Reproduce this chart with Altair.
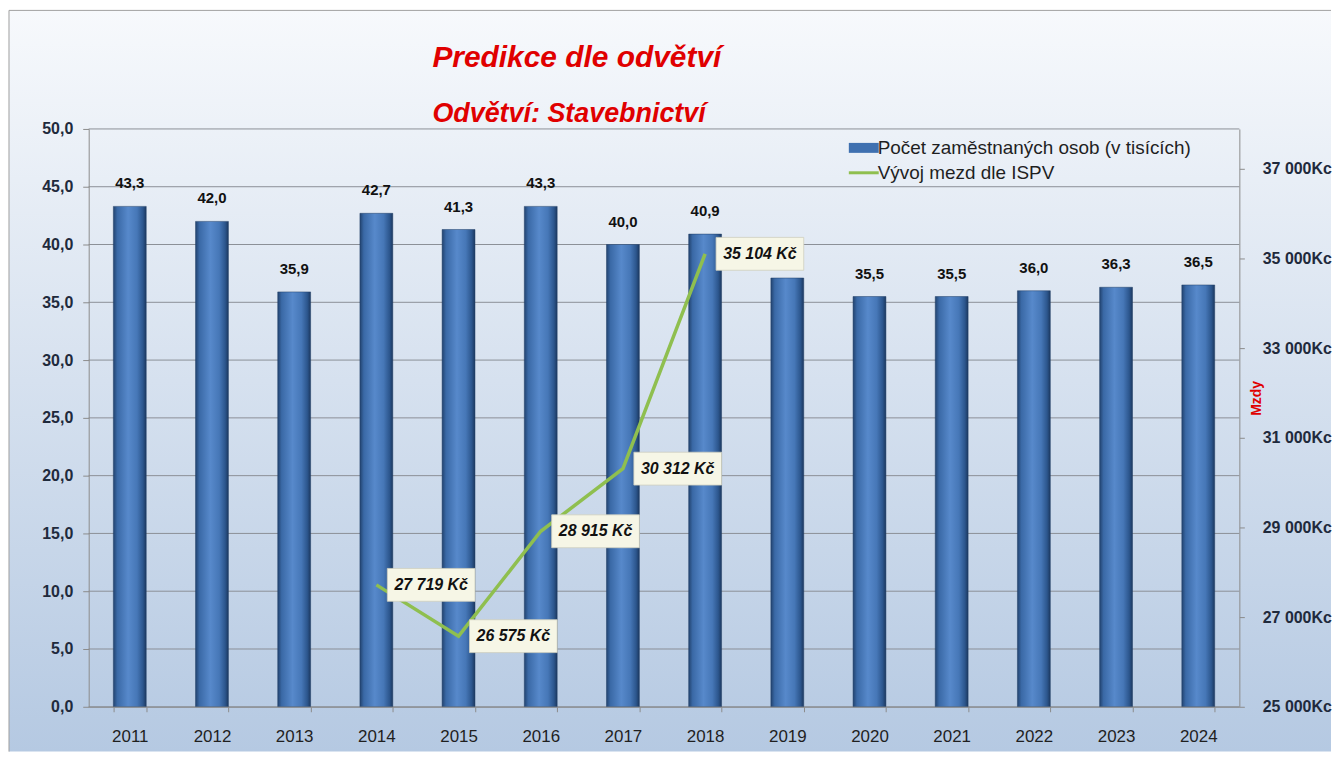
import altair as alt
import pandas as pd

# ---- data ----
years = ["2011", "2012", "2013", "2014", "2015", "2016", "2017",
         "2018", "2019", "2020", "2021", "2022", "2023", "2024"]
employees = [43.3, 42.0, 35.9, 42.7, 41.3, 43.3, 40.0,
             40.9, 37.1, 35.5, 35.5, 36.0, 36.3, 36.5]
wage_years = ["2014", "2015", "2016", "2017", "2018"]
wages = [27719, 26575, 28915, 30312, 35104]
series_names = ["Počet zaměstnaných osob (v tisících)", "Vývoj mezd dle ISPV"]
series_colors = ["#3f70b0", "#8fbf4f"]
series_shapes = ["M-1.5,-0.5H1.5V0.5H-1.5Z", "M-1.5,-0.15H1.5V0.15H-1.5Z"]
left_ticks = [0, 5, 10, 15, 20, 25, 30, 35, 40, 45, 50]
right_ticks = [25000, 27000, 29000, 31000, 33000, 35000, 37000]

W, H = 1155, 580
FONT = "Liberation Sans"
AXIS_GRAY = "#8c8c8c"
RED = "#e00000"

bars_df = pd.DataFrame({"year": years, "employees": employees})
wage_df = pd.DataFrame({
    "year": wage_years,
    "wage": wages,
    "label": [f"{w:,}".replace(",", " ") + " Kč" for w in wages],
})
grid_df = pd.DataFrame({"v": left_ticks})
legend_df = pd.DataFrame({"series": series_names})
bg_df = pd.DataFrame({"a": [0]})

xscale = alt.Scale(domain=years, paddingInner=0.6, paddingOuter=0.3)
x_axis = alt.Axis(title=None, labelFont=FONT, labelFontSize=17, labelColor="#1f1f1f",
                  tickBand="extent", tickSize=5, tickColor=AXIS_GRAY,
                  domainColor=AXIS_GRAY, labelPadding=17, grid=False,
                  labelAngle=0, zindex=1)
yL = alt.Scale(domain=[0, 50], nice=False, zero=True)
yR = alt.Scale(domain=[25000, 37890], nice=False, zero=False)

left_axis = alt.Axis(values=left_ticks,
                     labelExpr="replace(format(datum.value, '.1f'), '.', ',')",
                     labelFont=FONT, labelFontSize=16, labelFontWeight="bold",
                     labelColor="#1f2a3c", tickSize=6, tickColor=AXIS_GRAY,
                     domainColor=AXIS_GRAY, labelPadding=10, grid=False,
                     title=None, zindex=1)
right_axis = alt.Axis(orient="right", values=right_ticks,
                      labelExpr="replace(format(datum.value, ','), ',', ' ') + 'Kc'",
                      labelFont=FONT, labelFontSize=16, labelFontWeight="bold",
                      labelColor="#1f2a3c", tickSize=5, tickColor=AXIS_GRAY,
                      domainColor=AXIS_GRAY, labelPadding=18, grid=False,
                      title="Mzdy", titleColor=RED, titleFont=FONT,
                      titleFontSize=14, titleFontWeight="bold", titleAngle=270,
                      titleX=17, titleY=270, titleAlign="center",
                      titleBaseline="middle", zindex=1)

X = alt.X("year:N", scale=xscale, axis=x_axis, sort=None)

# chart-area background (gradient) and its top/left frame lines
bg = alt.Chart(bg_df).mark_rect(
    fill=alt.Gradient(gradient="linear", x1=0, y1=0, x2=0, y2=1,
                      stops=[alt.GradientStop(offset=0, color="#f7f9fc"),
                             alt.GradientStop(offset=0.5, color="#d6e1ef"),
                             alt.GradientStop(offset=1, color="#b5c9e2")]),
    strokeWidth=0,
).encode(x=alt.value(-80), x2=alt.value(W + 92), y=alt.value(-119), y2=alt.value(H + 45))
frame_top = alt.Chart(bg_df).mark_rule(color="#a0a0a0", strokeWidth=1).encode(
    x=alt.value(-80), x2=alt.value(W + 92), y=alt.value(-119))
frame_left = alt.Chart(bg_df).mark_rule(color="#a0a0a0", strokeWidth=1).encode(
    x=alt.value(-80), y=alt.value(-119), y2=alt.value(H + 45))

grid = alt.Chart(grid_df).mark_rule(color="#8c9097", strokeWidth=1).encode(
    y=alt.Y("v:Q", scale=yL, axis=left_axis)
)

bar_fill = alt.Gradient(
    gradient="linear", x1=0, y1=0, x2=1, y2=0,
    stops=[alt.GradientStop(offset=0, color="#22436f"),
           alt.GradientStop(offset=0.12, color="#3a69a6"),
           alt.GradientStop(offset=0.45, color="#5789cb"),
           alt.GradientStop(offset=0.72, color="#4677b7"),
           alt.GradientStop(offset=0.9, color="#2c568d"),
           alt.GradientStop(offset=1, color="#1c385f")])

bars = alt.Chart(bars_df).mark_bar(fill=bar_fill, stroke="#1f3d66", strokeWidth=0.5).encode(
    x=X, y=alt.Y("employees:Q", scale=yL, axis=left_axis)
)

bar_labels = alt.Chart(bars_df).transform_calculate(
    lbl="replace(format(datum.employees, '.1f'), '.', ',')"
).mark_text(font=FONT, fontSize=15, fontWeight="bold", color="#111111",
            dy=-18, baseline="alphabetic").encode(
    x=X, y=alt.Y("employees:Q", scale=yL, axis=left_axis), text="lbl:N"
)

left = alt.layer(bg, frame_top, frame_left, grid, bars, bar_labels)

YR = alt.Y("wage:Q", scale=yR, axis=right_axis)

line = alt.Chart(wage_df).mark_line(color="#8fbf4f", strokeWidth=3.5).encode(x=X, y=YR)

boxes = alt.Chart(wage_df).mark_point(
    shape="M-1,-0.375H1V0.375H-1Z", size=7744, filled=True, fill="#f6f6e6",
    stroke="#cfcfbf", strokeWidth=0.8, opacity=1, xOffset=55,
).encode(x=X, y=YR)

box_text = alt.Chart(wage_df).mark_text(
    font=FONT, fontSize=16, fontWeight="bold", fontStyle="italic",
    color="#111111", align="center", baseline="middle", xOffset=55,
).encode(x=X, y=YR, text="label:N")

leg_legend = alt.Legend(
    title=None, orient="none", legendX=768, legendY=9,
    labelFont=FONT, labelFontSize=19, labelColor="#1f1f1f", labelLimit=500,
    symbolSize=400, symbolStrokeWidth=0, labelOffset=4,
    rowPadding=5, padding=0, symbolOpacity=1, zindex=1,
)
leg = alt.Chart(legend_df).mark_point(filled=True, opacity=0).encode(
    color=alt.Color("series:N", scale=alt.Scale(domain=series_names, range=series_colors),
                    legend=leg_legend),
    shape=alt.Shape("series:N", scale=alt.Scale(domain=series_names, range=series_shapes),
                    legend=leg_legend),
)

right = alt.layer(line, boxes, box_text, leg)

chart = alt.layer(left, right).resolve_scale(y="independent").properties(
    width=W, height=H, padding=0, background="#ffffff",
    title=alt.Title(
        "Predikce dle odvětví", subtitle="Odvětví: Stavebnictví",
        anchor="start", frame="group", dx=345, offset=-118,
        font=FONT, fontSize=30, fontWeight="bold", fontStyle="italic", color=RED,
        subtitleFont=FONT, subtitleFontSize=27, subtitleFontWeight="bold",
        subtitleFontStyle="italic", subtitleColor=RED, subtitlePadding=29,
    ),
).configure_view(strokeWidth=0)

chart.save("out.html", embed_options={"renderer": "svg", "actions": False})
